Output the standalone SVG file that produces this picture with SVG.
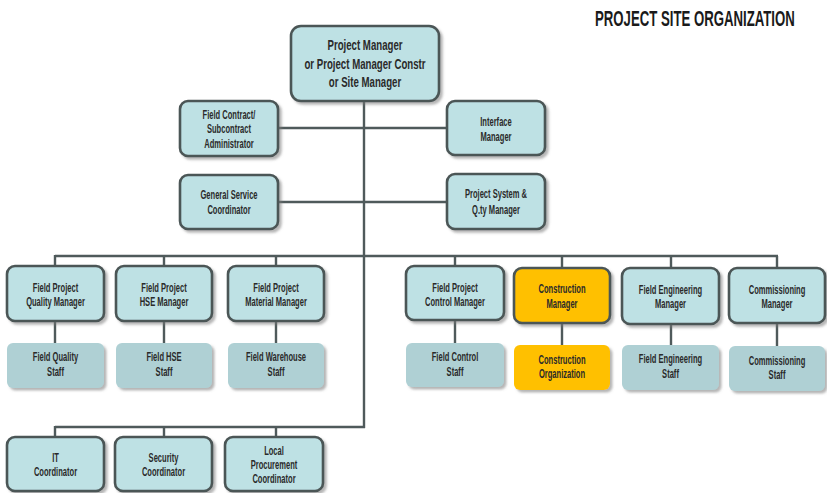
<svg xmlns="http://www.w3.org/2000/svg" width="827" height="493" viewBox="0 0 827 493">
<defs>
<filter id="sh" x="-10%" y="-10%" width="125%" height="130%">
<feDropShadow dx="2.5" dy="2.5" stdDeviation="1" flood-color="#7a7a7a" flood-opacity="0.55"/>
</filter>
</defs>
<style>
.mgr{fill:#BEE1E4;stroke:#4B5657;stroke-width:2.6;filter:url(#sh)}
.mgry{fill:#FFC000;stroke:#4B5657;stroke-width:2.6;filter:url(#sh)}
.stf{fill:#AFD0D4;filter:url(#sh)}
.stfy{fill:#FFC000;filter:url(#sh)}
.t{font-family:"Liberation Sans",Arial,sans-serif;font-weight:bold;font-size:12px;fill:#2a2a2a;text-anchor:middle}
.tt{font-family:"Liberation Sans",Arial,sans-serif;font-weight:bold;font-size:14px;fill:#2a2a2a;text-anchor:middle}
.ttl{font-family:"Liberation Sans",Arial,sans-serif;font-weight:bold;font-size:22px;fill:#1a1a1a}
.ln{stroke:#4F5A5B;stroke-width:2.4;fill:none}
</style>
<rect width="827" height="493" fill="#ffffff"/>
<text class="ttl" transform="translate(595,26) scale(0.6,1)">PROJECT SITE ORGANIZATION</text>
<g id="connectors">
<path class="ln" d="M364 101V428"/>
<path class="ln" d="M278 128H447"/>
<path class="ln" d="M278 202H447"/>
<path class="ln" d="M55 256H778"/>
<path class="ln" d="M55 255V266M164 256V266M276 256V266M455 256V266M562 256V268M671 256V268M777 256V268"/>
<path class="ln" d="M55 321V343M164 321V343M276 321V343M455 320V343M562 323V345M671 324V345M777 323V346"/>
<path class="ln" d="M55 427H365"/>
<path class="ln" d="M55 426V437M164 427V437M276 427V437"/>
</g>
<g id="pm"><rect class="mgr" x="291" y="26" width="148" height="75" rx="10"/>
<text class="tt" transform="translate(365,50) scale(0.69,1)">Project Manager</text>
<text class="tt" transform="translate(365,69) scale(0.69,1)">or Project Manager Constr</text>
<text class="tt" transform="translate(365,87) scale(0.69,1)">or Site Manager</text></g>
<g id="contract"><rect class="mgr" x="180" y="101" width="98" height="55" rx="8"/>
<text class="t" transform="translate(229,119) scale(0.63,1)">Field Contract/</text>
<text class="t" transform="translate(229,133) scale(0.63,1)">Subcontract</text>
<text class="t" transform="translate(229,148) scale(0.63,1)">Administrator</text></g>
<g id="interface"><rect class="mgr" x="447" y="101" width="98" height="54" rx="8"/>
<text class="t" transform="translate(496,126) scale(0.63,1)">Interface</text>
<text class="t" transform="translate(496,141) scale(0.63,1)">Manager</text></g>
<g id="general"><rect class="mgr" x="180" y="175" width="98" height="54" rx="8"/>
<text class="t" transform="translate(229,199) scale(0.63,1)">General Service</text>
<text class="t" transform="translate(229,214) scale(0.63,1)">Coordinator</text></g>
<g id="system"><rect class="mgr" x="447" y="174" width="98" height="55" rx="8"/>
<text class="t" transform="translate(496,198) scale(0.63,1)">Project System &amp;</text>
<text class="t" transform="translate(496,214) scale(0.63,1)">Q.ty Manager</text></g>
<g id="quality"><rect class="mgr" x="7" y="266" width="97" height="55" rx="8"/>
<text class="t" transform="translate(55.5,292) scale(0.63,1)">Field Project</text>
<text class="t" transform="translate(55.5,306) scale(0.63,1)">Quality Manager</text></g>
<g id="hse"><rect class="mgr" x="116" y="266" width="96" height="55" rx="8"/>
<text class="t" transform="translate(164,292) scale(0.63,1)">Field Project</text>
<text class="t" transform="translate(164,306) scale(0.63,1)">HSE Manager</text></g>
<g id="material"><rect class="mgr" x="228" y="266" width="96" height="55" rx="8"/>
<text class="t" transform="translate(276,292) scale(0.63,1)">Field Project</text>
<text class="t" transform="translate(276,306) scale(0.63,1)">Material Manager</text></g>
<g id="control"><rect class="mgr" x="406" y="266" width="98" height="54" rx="8"/>
<text class="t" transform="translate(455,292) scale(0.63,1)">Field Project</text>
<text class="t" transform="translate(455,306) scale(0.63,1)">Control Manager</text></g>
<g id="construction"><rect class="mgry" x="514" y="268" width="96" height="55" rx="8"/>
<text class="t" transform="translate(562,293) scale(0.63,1)">Construction</text>
<text class="t" transform="translate(562,308) scale(0.63,1)">Manager</text></g>
<g id="engineering"><rect class="mgr" x="622" y="268" width="97" height="56" rx="8"/>
<text class="t" transform="translate(670.5,294) scale(0.63,1)">Field Engineering</text>
<text class="t" transform="translate(670.5,308) scale(0.63,1)">Manager</text></g>
<g id="commissioning"><rect class="mgr" x="729" y="268" width="96" height="55" rx="8"/>
<text class="t" transform="translate(777,294) scale(0.63,1)">Commissioning</text>
<text class="t" transform="translate(777,308) scale(0.63,1)">Manager</text></g>
<g id="qstaff"><rect class="stf" x="7" y="343" width="97" height="45" rx="6"/>
<text class="t" transform="translate(55.5,361) scale(0.63,1)">Field Quality</text>
<text class="t" transform="translate(55.5,376) scale(0.63,1)">Staff</text></g>
<g id="hstaff"><rect class="stf" x="116" y="343" width="96" height="45" rx="6"/>
<text class="t" transform="translate(164,361) scale(0.63,1)">Field HSE</text>
<text class="t" transform="translate(164,376) scale(0.63,1)">Staff</text></g>
<g id="wstaff"><rect class="stf" x="228" y="343" width="96" height="45" rx="6"/>
<text class="t" transform="translate(276,361) scale(0.63,1)">Field Warehouse</text>
<text class="t" transform="translate(276,376) scale(0.63,1)">Staff</text></g>
<g id="cstaff"><rect class="stf" x="406" y="343" width="98" height="44" rx="6"/>
<text class="t" transform="translate(455,361) scale(0.63,1)">Field Control</text>
<text class="t" transform="translate(455,376) scale(0.63,1)">Staff</text></g>
<g id="corg"><rect class="stfy" x="514" y="345" width="96" height="45" rx="6"/>
<text class="t" transform="translate(562,364) scale(0.63,1)">Construction</text>
<text class="t" transform="translate(562,378) scale(0.63,1)">Organization</text></g>
<g id="estaff"><rect class="stf" x="622" y="345" width="97" height="45" rx="6"/>
<text class="t" transform="translate(670.5,363) scale(0.63,1)">Field Engineering</text>
<text class="t" transform="translate(670.5,378) scale(0.63,1)">Staff</text></g>
<g id="comstaff"><rect class="stf" x="729" y="346" width="96" height="45" rx="6"/>
<text class="t" transform="translate(777,365) scale(0.63,1)">Commissioning</text>
<text class="t" transform="translate(777,379) scale(0.63,1)">Staff</text></g>
<g id="it"><rect class="mgr" x="7" y="437" width="97" height="54" rx="8"/>
<text class="t" transform="translate(55.5,462) scale(0.63,1)">IT</text>
<text class="t" transform="translate(55.5,476) scale(0.63,1)">Coordinator</text></g>
<g id="security"><rect class="mgr" x="115" y="437" width="97" height="54" rx="8"/>
<text class="t" transform="translate(163.5,462) scale(0.63,1)">Security</text>
<text class="t" transform="translate(163.5,476) scale(0.63,1)">Coordinator</text></g>
<g id="local"><rect class="mgr" x="225" y="437" width="98" height="54" rx="8"/>
<text class="t" transform="translate(274,455) scale(0.63,1)">Local</text>
<text class="t" transform="translate(274,469) scale(0.63,1)">Procurement</text>
<text class="t" transform="translate(274,483) scale(0.63,1)">Coordinator</text></g>
</svg>
